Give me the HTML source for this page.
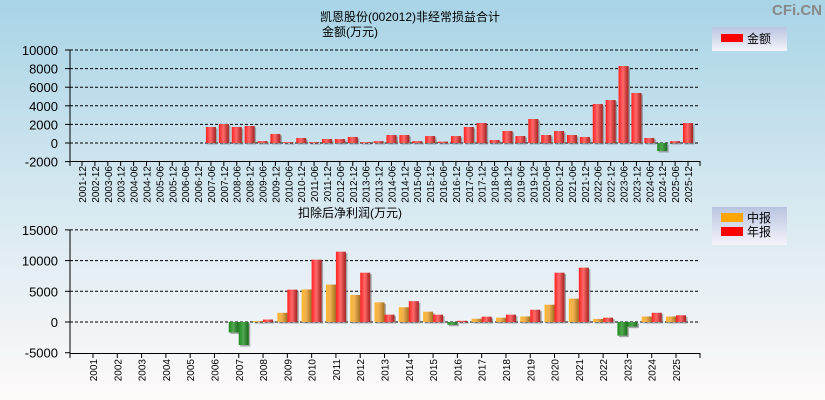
<!DOCTYPE html>
<html><head><meta charset="utf-8"><style>
html,body{margin:0;padding:0;width:825px;height:400px;overflow:hidden}
body{background:linear-gradient(#a8d4e6,#d6e8f0 50%,#fefafa);font-family:"Liberation Sans","Noto Sans CJK SC",sans-serif}
</style></head><body>
<svg id="s" width="825" height="400" xmlns="http://www.w3.org/2000/svg" style="position:absolute;left:0;top:0;font-family:'Liberation Sans','Noto Sans CJK SC',sans-serif">
<defs>
<linearGradient id="r" x1="0" x2="1"><stop offset="0" stop-color="#ff2020"/><stop offset="0.45" stop-color="#ff6a6a"/><stop offset="1" stop-color="#a52020"/></linearGradient>
<linearGradient id="o" x1="0" x2="1"><stop offset="0" stop-color="#ffb830"/><stop offset="0.45" stop-color="#f0b050"/><stop offset="1" stop-color="#a07020"/></linearGradient>
<linearGradient id="g" x1="0" x2="1"><stop offset="0" stop-color="#1e8a1e"/><stop offset="0.45" stop-color="#50a850"/><stop offset="1" stop-color="#1a6a1a"/></linearGradient>
<linearGradient id="lg" x1="0" y1="0" x2="0" y2="1"><stop offset="0" stop-color="#b8c4e0"/><stop offset="1" stop-color="#f4f4fa"/></linearGradient>
</defs>
<text x="822" y="15" font-size="15" font-weight="bold" fill="#888" text-anchor="end">CFi.CN</text>
<text x="410" y="21" font-size="12" text-anchor="middle">凯恩股份(002012)非经常损益合计</text>
<text x="322" y="36" font-size="12">金额(万元)</text>
<text x="298" y="217" font-size="12">扣除后净利润(万元)</text>
<rect x="712" y="27" width="75" height="24" fill="url(#lg)"/>
<rect x="721" y="34" width="22" height="8" fill="#f00"/>
<text x="747" y="43" font-size="12">金额</text>
<rect x="712" y="207" width="75" height="38" fill="url(#lg)"/>
<rect x="721" y="213" width="22" height="9" fill="#ffa500"/>
<text x="747" y="222" font-size="12">中报</text>
<rect x="721" y="227" width="22" height="9" fill="#f00"/>
<text x="747" y="236" font-size="12">年报</text>
<g id="c"></g>
</svg>
<script>
var c=document.getElementById('c'),h='';
function T(x,y,t,a,sz,rot){h+='<text x="'+x+'" y="'+y+'" font-size="'+sz+'" text-anchor="'+a+'"'+(rot?' transform="rotate(-90 '+x+' '+y+')"':'')+'>'+t+'</text>';}
function bar(x,w,z,v,k,f){var y=z-v*k,t=Math.min(y,z),hh=Math.abs(z-y);if(hh<1)hh=1;
h+='<rect x="'+(x+1.5)+'" y="'+(t+1.5)+'" width="'+w+'" height="'+hh+'" fill="#777" opacity="0.6"/>';
h+='<rect x="'+x+'" y="'+t+'" width="'+w+'" height="'+hh+'" fill="url(#'+(v<0?'g':f)+')"/>';}
var k1=18.6/2000,z1=143;
[10000,8000,6000,4000,2000,0,-2000].forEach(function(v){var y=z1-v*k1;T(58,y+5,v,'end',13);h+='<line x1="65" x2="70" y1="'+y+'" y2="'+y+'" stroke="#000"/>';if(v>=0)h+='<line x1="70" x2="700" y1="'+y+'" y2="'+y+'" stroke="#000" stroke-dasharray="3,2"/>';});
h+='<line x1="70" x2="70" y1="50" y2="166" stroke="#000"/><line x1="70" x2="700" y1="161.5" y2="161.5" stroke="#000"/>';
var V=[0,0,0,0,0,0,0,0,0,0,1720,2040,1720,1830,200,970,100,540,100,430,430,650,100,200,860,860,200,750,150,750,1720,2150,320,1290,750,2580,860,1290,860,650,4190,4620,8280,5380,540,-860,200,2150];
var L=['2001-12','2002-12','2003-06','2003-12','2004-06','2004-12','2005-06','2005-12','2006-06','2006-12'];
for(var y=2007;y<=2025;y++){L.push(y+'-06');L.push(y+'-12');}
var sp=606/47;
for(var i=0;i<48;i++){var x=82+sp*i;h+='<line x1="'+x+'" x2="'+x+'" y1="161" y2="166" stroke="#000"/>';T(x+4,166,L[i],'end',10,1);if(V[i])bar(x-5,10,z1,V[i],k1,'r');}
h+='<line x1="700" x2="700" y1="161" y2="166" stroke="#000"/>';
var k2=30.7/5000,z2=322;
[15000,10000,5000,0,-5000].forEach(function(v){var y=z2-v*k2;T(58,y+5,v,'end',13);h+='<line x1="65" x2="70" y1="'+y+'" y2="'+y+'" stroke="#000"/>';if(v>=0)h+='<line x1="70" x2="700" y1="'+y+'" y2="'+y+'" stroke="#000" stroke-dasharray="3,2"/>';});
h+='<line x1="70" x2="70" y1="230" y2="358" stroke="#000"/><line x1="70" x2="700" y1="353.5" y2="353.5" stroke="#000"/>';
var O=[0,0,0,0,0,0,-1700,150,1500,5300,6100,4400,3200,2400,1680,-450,540,700,900,2820,3800,500,-2230,900,900];
var R=[0,0,0,0,0,0,-3750,400,5270,10150,11450,8030,1200,3400,1190,200,870,1200,2000,8030,8850,700,-760,1500,1100];
var sp2=583/24;
for(var i=0;i<25;i++){var x=93+sp2*i;h+='<line x1="'+x+'" x2="'+x+'" y1="353" y2="358" stroke="#000"/>';T(x+4,359,2001+i,'end',10,1);if(O[i])bar(x-10,10,z2,O[i],k2,'o');if(R[i])bar(x,10,z2,R[i],k2,'r');}
h+='<line x1="700" x2="700" y1="353" y2="358" stroke="#000"/>';
c.innerHTML=h;
</script>
</body></html>
